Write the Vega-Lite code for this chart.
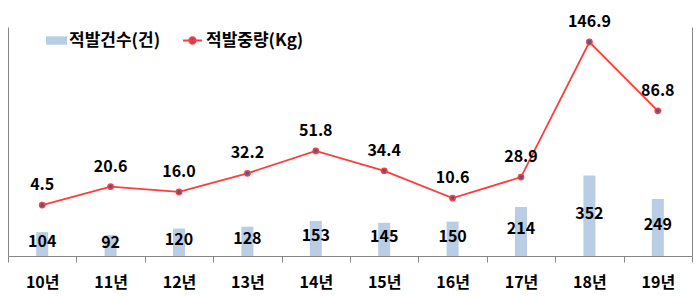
{
  "$schema": "https://vega.github.io/schema/vega-lite/v6.json",
  "width": 684,
  "height": 229,
  "autosize": {"type": "none"},
  "padding": {"left": 8, "top": 27, "right": 8, "bottom": 41},
  "background": "white",
  "config": {
    "font": "Noto Sans CJK KR",
    "view": {"stroke": null},
    "axis": {"grid": false, "title": null}
  },
  "data": {
    "values": [
      {"year": "10년", "count": 104, "weight": 4.5},
      {"year": "11년", "count": 92, "weight": 20.6},
      {"year": "12년", "count": 120, "weight": 16.0},
      {"year": "13년", "count": 128, "weight": 32.2},
      {"year": "14년", "count": 153, "weight": 51.8},
      {"year": "15년", "count": 145, "weight": 34.4},
      {"year": "16년", "count": 150, "weight": 10.6},
      {"year": "17년", "count": 214, "weight": 28.9},
      {"year": "18년", "count": 352, "weight": 146.9},
      {"year": "19년", "count": 249, "weight": 86.8}
    ]
  },
  "encoding": {
    "x": {
      "field": "year",
      "type": "nominal",
      "sort": null,
      "scale": {"paddingInner": 0, "paddingOuter": 0},
      "axis": {
        "labelAngle": 0,
        "labelFontSize": 16,
        "labelFontWeight": "bold",
        "labelColor": "#000000",
        "labelBaseline": "middle",
        "labelPadding": 20,
        "tickBand": "extent",
        "tickSize": 6,
        "tickColor": "#868686",
        "domainColor": "#868686",
        "tickWidth": 1,
        "domainWidth": 1
      }
    }
  },
  "layer": [
    {
      "mark": {"type": "bar", "size": 12, "color": "#b9cde5"},
      "encoding": {
        "y": {
          "field": "count",
          "type": "quantitative",
          "scale": {"domain": [0, 1000], "nice": false},
          "axis": {"orient": "left", "labels": false, "ticks": false, "domainColor": "#868686", "domainWidth": 1}
        },
        "fill": {
          "datum": "적발건수(건)",
          "type": "nominal",
          "scale": {"range": ["#b9cde5"]},
          "legend": {
            "title": null,
            "orient": "none",
            "legendX": 38,
            "legendY": 3,
            "padding": 0,
            "symbolType": "M-1,-0.4H1V0.4H-1Z",
            "symbolSize": 441,
            "symbolStrokeWidth": 0,
            "labelFontSize": 17,
            "labelFontWeight": "bold",
            "labelColor": "#000000",
            "labelOffset": 2
          }
        }
      }
    },
    {
      "mark": {"type": "text", "fontSize": 16, "fontWeight": "bold", "color": "#000000", "baseline": "middle", "dy": -2},
      "encoding": {
        "y": {
          "field": "count",
          "type": "quantitative",
          "scale": {"domain": [0, 2000], "nice": false},
          "axis": null
        },
        "text": {"field": "count", "type": "quantitative"}
      }
    },
    {
      "mark": {"type": "line", "color": "#ff3b3b", "strokeWidth": 1.8},
      "encoding": {
        "y": {
          "field": "weight",
          "type": "quantitative",
          "scale": {"domain": [-40, 160], "nice": false},
          "axis": {"orient": "right", "labels": false, "ticks": false, "domainColor": "#868686", "domainWidth": 1}
        },
        "stroke": {
          "datum": "적발중량(Kg)",
          "type": "nominal",
          "scale": {"range": ["#ff3b3b"]},
          "legend": {
            "title": null,
            "orient": "none",
            "legendX": 174,
            "legendY": 3,
            "padding": 0,
            "symbolType": "M-1,0H1M0.34,0A0.34,0.34,0,1,1,-0.34,0A0.34,0.34,0,1,1,0.34,0Z",
            "symbolSize": 361,
            "symbolStrokeWidth": 1.8,
            "labelFontSize": 17,
            "labelFontWeight": "bold",
            "labelColor": "#000000",
            "labelOffset": 3,
            "symbolFillColor": "#3f5e9a",
            "encode": {"symbols": {"update": {"fill": {"value": "#3f5e9a"}}}}
          }
        }
      }
    },
    {
      "mark": {"type": "point", "filled": true, "fill": "#3f5e9a", "stroke": "#ff3b3b", "strokeWidth": 1.5, "size": 28, "opacity": 1},
      "encoding": {
        "y": {
          "field": "weight",
          "type": "quantitative",
          "scale": {"domain": [-40, 160], "nice": false},
          "axis": null
        }
      }
    },
    {
      "mark": {"type": "text", "fontSize": 16, "fontWeight": "bold", "color": "#000000", "baseline": "middle", "dy": -20},
      "encoding": {
        "y": {
          "field": "weight",
          "type": "quantitative",
          "scale": {"domain": [-40, 160], "nice": false},
          "axis": null
        },
        "text": {"field": "weight", "type": "quantitative", "format": ".1f"}
      }
    }
  ],
  "resolve": {"scale": {"y": "independent"}}
}
